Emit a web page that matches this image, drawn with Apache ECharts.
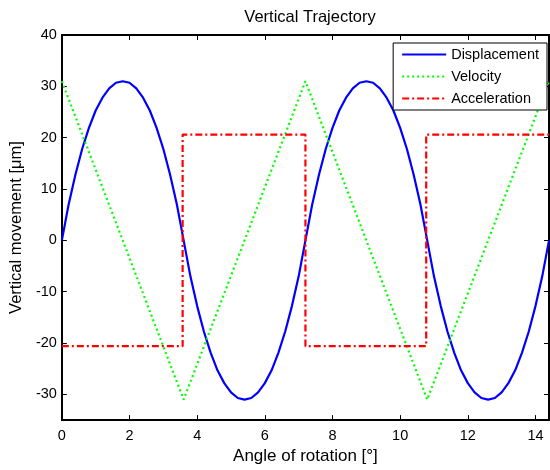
<!DOCTYPE html>
<html>
<head>
<meta charset="utf-8">
<script src="https://cdn.jsdelivr.net/npm/echarts@6/dist/echarts.min.js"></script>
<style>html,body{margin:0;padding:0;background:#fff}#c{width:550px;height:470px}</style>
</head>
<body>
<div id="c"></div>
<script>
var angle = [0,0.2,0.4,0.6,0.8,1.0,1.2,1.4,1.6,1.8,2.0,2.2,2.4,2.6,2.8,3.0,3.2,3.4,3.6,
  3.8,4.0,4.2,4.4,4.6,4.8,5.0,5.2,5.4,5.6,5.8,6.0,6.2,6.4,6.6,6.8,7.0,7.2,
  7.4,7.6,7.8,8.0,8.2,8.4,8.6,8.8,9.0,9.2,9.4,9.6,9.8,10.0,10.2,10.4,10.6,10.8,
  11.0,11.2,11.4,11.6,11.8,12.0,12.2,12.4,12.6,12.8,13.0,13.2,13.4,13.6,13.8,14.0,14.2,14.4];
var displacement = [0,7.0,12.8,17.8,21.9,25.3,27.8,29.6,30.7,31.0,30.7,29.6,27.8,25.3,21.9,17.8,12.8,7.0,0,
  -7.0,-12.8,-17.8,-21.9,-25.3,-27.8,-29.6,-30.7,-31.0,-30.7,-29.6,-27.8,-25.3,-21.9,-17.8,-12.8,-7.0,0,
  7.0,12.8,17.8,21.9,25.3,27.8,29.6,30.7,31.0,30.7,29.6,27.8,25.3,21.9,17.8,12.8,7.0,0,
  -7.0,-12.8,-17.8,-21.9,-25.3,-27.8,-29.6,-30.7,-31.0,-30.7,-29.6,-27.8,-25.3,-21.9,-17.8,-12.8,-7.0,0];
var velAngle = [0,3.6,7.2,10.8,14.4];
var velocity = [31,-31,31,-31,31];
var accAngle = [0,3.57,3.57,7.2,7.2,10.77,10.77,14.4];
var acceleration = [-20.6,-20.6,20.6,20.6,-20.6,-20.6,20.6,20.6];
var seriesNames = ['Displacement','Velocity','Acceleration'];
var title = 'Vertical Trajectory';
var xName = 'Angle of rotation [°]';
var yName = 'Vertical movement [μm]';

function zip(a,b){var r=[];for(var i=0;i<a.length;i++)r.push([a[i],b[i]]);return r;}
var font = 'Liberation Sans, Arial, sans-serif';
var chart = echarts.init(document.getElementById('c'), null, {renderer:'canvas'});
var axisCommon = {
  axisLine:{show:true,onZero:false,lineStyle:{color:'#000',width:2}},
  axisTick:{show:true,inside:true,length:5,lineStyle:{color:'#000',width:1}},
  splitLine:{show:false}
};
chart.setOption({
  animation:false,
  backgroundColor:'#fff',
  title:{text:title,left:305,top:4,textAlign:'center',
    textStyle:{fontFamily:font,fontSize:16.5,fontWeight:'normal',color:'#000'}},
  grid:{left:59,right:1,top:35,bottom:47,containLabel:false},
  legend:{
    data:seriesNames,orient:'vertical',right:3,top:43,
    backgroundColor:'#fff',borderColor:'#000',borderWidth:1,
    padding:[4,8,4,8],itemWidth:44,itemHeight:12,itemGap:7,
    itemStyle:{opacity:0},
    textStyle:{fontFamily:font,fontSize:14.5,color:'#000'}
  },
  xAxis:[
    Object.assign({type:'value',min:0,max:14.4,minInterval:2,maxInterval:2,position:'bottom',
      name:xName,nameLocation:'middle',nameGap:27,
      nameTextStyle:{fontFamily:font,fontSize:17,color:'#000'},
      axisLabel:{fontFamily:font,fontSize:14.5,color:'#000',margin:8,showMaxLabel:false,
        formatter:function(v){return (Math.abs(v%2)<1e-6)?String(v):'';}}},axisCommon),
    Object.assign({type:'value',min:0,max:14.4,minInterval:2,maxInterval:2,position:'top',
      axisLabel:{show:false}},axisCommon)
  ],
  yAxis:[
    Object.assign({type:'value',min:-35,max:40,minInterval:10,maxInterval:10,position:'left',
      name:yName,nameLocation:'middle',nameGap:34,nameRotate:90,
      nameTextStyle:{fontFamily:font,fontSize:16.5,color:'#000'},
      axisLabel:{fontFamily:font,fontSize:14.5,color:'#000',margin:5,
        formatter:function(v){return (Math.abs(v%10)<1e-6)?String(v):'';}}},axisCommon),
    Object.assign({type:'value',min:-35,max:40,minInterval:10,maxInterval:10,position:'right',
      axisLabel:{show:false}},axisCommon)
  ],
  series:[
    {name:seriesNames[0],type:'line',data:zip(angle,displacement),showSymbol:false,symbol:'none',
      lineStyle:{color:'#0000ff',width:2.2},itemStyle:{color:'#0000ff'}},
    {name:seriesNames[1],type:'line',data:zip(velAngle,velocity),showSymbol:false,symbol:'none',
      lineStyle:{color:'#00ff00',width:2.2,type:[2,3]},itemStyle:{color:'#00ff00'}},
    {name:seriesNames[2],type:'line',data:zip(accAngle,acceleration),showSymbol:false,symbol:'none',
      lineStyle:{color:'#ff0000',width:2.2,type:[7,3,2,3]},itemStyle:{color:'#ff0000'}}
  ]
});
</script>
</body>
</html>
